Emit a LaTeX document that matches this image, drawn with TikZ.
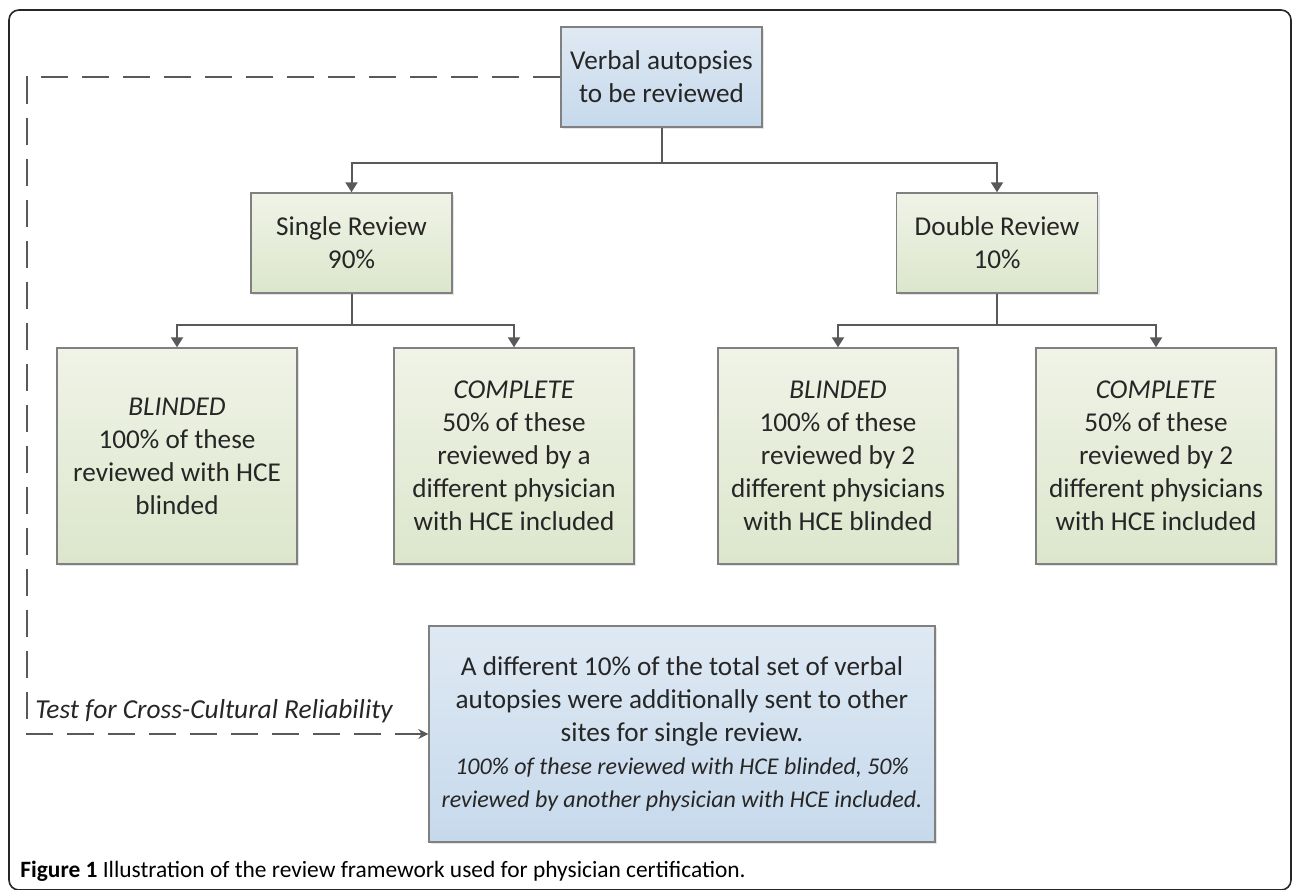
\documentclass[tikz,border=0pt]{standalone}
\usepackage{fontspec}
\setmainfont{Carlito}
\usetikzlibrary{arrows.meta, positioning, calc, shadows}

\definecolor{boxline}{RGB}{128,128,128}
\definecolor{connline}{RGB}{89,89,89}
\definecolor{bluetop}{RGB}{223,233,243}
\definecolor{bluebot}{RGB}{198,217,236}
\definecolor{greentop}{RGB}{240,243,231}
\definecolor{greenbot}{RGB}{220,230,204}
\definecolor{txt}{RGB}{38,38,38}

\tikzset{
  box/.style={draw=boxline, line width=0.7pt, align=center, text=txt, inner sep=2pt,
    font=\fontsize{13.6}{16.5}\selectfont,
    drop shadow={shadow xshift=1.2pt, shadow yshift=-1.2pt, opacity=0.25, fill=black!40}},
  bluebox/.style={box, top color=bluetop, bottom color=bluebot},
  greenbox/.style={box, top color=greentop, bottom color=greenbot},
  smallbox/.style={minimum width=100.5pt, minimum height=50pt},
  tallbox/.style={minimum width=120pt, minimum height=108pt},
  conn/.style={draw=connline, line width=1pt, -{Triangle[length=5pt,width=6pt]}},
  crossline/.style={draw=connline, line width=0.7pt, dash pattern=on 13.5pt off 7pt,
    -{Stealth[length=5pt,width=5pt]}},
}

\begin{document}
\begin{tikzpicture}[x=0.5pt, y=-0.5pt]
\useasboundingbox (0,0) rectangle (1293,889);

% outer frame
\draw[line width=0.8pt, draw=black!85, rounded corners=5pt] (9,10) rectangle (1291,890);

% top level
\node[bluebox, smallbox] (verbal) at (661.5,77) {Verbal autopsies\\to be reviewed};

% second level
\node[greenbox, smallbox] (single) at (351.5,243) {Single Review\\90\%};
\node[greenbox, smallbox] (double) at (997,243) {Double Review\\10\%};

% third level
\node[greenbox, tallbox] (blindA) at (177,456) {\textit{BLINDED}\\100\% of these\\reviewed with HCE\\blinded};
\node[greenbox, tallbox] (completeA) at (514,456) {\textit{COMPLETE}\\50\% of these\\reviewed by a\\different physician\\with HCE included};
\node[greenbox, tallbox] (blindB) at (838,456) {\textit{BLINDED}\\100\% of these\\reviewed by 2\\different physicians\\with HCE blinded};
\node[greenbox, tallbox] (completeB) at (1156,456) {\textit{COMPLETE}\\50\% of these\\reviewed by 2\\different physicians\\with HCE included};

% cross-cultural set
\node[bluebox, minimum width=253pt, minimum height=108pt] (extra) at (682,734)
  {A different 10\% of the total set of verbal\\autopsies were additionally sent to other\\sites for single review.\\
   {\fontsize{12}{15}\selectfont\itshape 100\% of these reviewed with HCE blinded, 50\%}\\
   {\fontsize{12}{15}\selectfont\itshape reviewed by another physician with HCE included.}};

% tree connectors
\draw[conn] (verbal.south) -- ++(0,35) -| (single.north);
\draw[conn] (verbal.south) -- ++(0,35) -| (double.north);
\draw[conn] (single.south) -- ++(0,31) -| (blindA.north);
\draw[conn] (single.south) -- ++(0,31) -| (completeA.north);
\draw[conn] (double.south) -- ++(0,31) -| (blindB.north);
\draw[conn] (double.south) -- ++(0,31) -| (completeB.north);

% dashed side branch
\coordinate (bend) at (27,734);
\draw[crossline] (verbal.west) -| (bend) -- (extra.west);
\node[anchor=base west, inner sep=0pt, text=txt, font=\fontsize{13.7}{16}\selectfont\itshape] (testlabel) at (35,718) {Test for Cross-Cultural Reliability};

% caption
\node[anchor=base west, inner sep=0pt, font=\fontsize{11.7}{14}\selectfont] (caption) at (20,877)
  {\textbf{Figure 1} Illustration of the review framework used for physician certification.};
\end{tikzpicture}
\end{document}
